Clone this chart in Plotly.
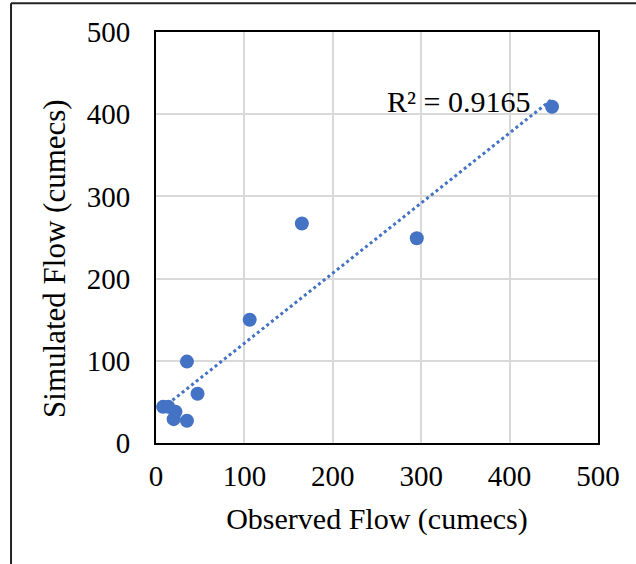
import numpy as np
import plotly.graph_objects as go

# Observed vs simulated flow (cumecs)
observed = [8, 14, 22, 20, 35, 47, 35, 106, 165, 295, 448]
simulated = [44, 44, 38, 29, 27, 60, 99, 150, 267, 249, 409]
r2_label = "R² = 0.9165"
ticks = [0, 100, 200, 300, 400, 500]

blue = "#4472C4"
font_family = "Liberation Serif, Times New Roman, serif"

# Linear trendline across the observed range
slope, intercept = np.polyfit(observed, simulated, 1)
x_fit = np.array([min(observed), max(observed)])
y_fit = slope * x_fit + intercept

fig = go.Figure()
fig.add_trace(go.Scatter(
    x=x_fit, y=y_fit, mode="lines",
    line=dict(color=blue, width=3, dash="dot"),
    hoverinfo="skip", showlegend=False,
))
fig.add_trace(go.Scatter(
    x=observed, y=simulated, mode="markers",
    marker=dict(color=blue, size=14, line=dict(width=0)),
    showlegend=False,
))

fig.add_annotation(
    x=342, y=415, text=r2_label, showarrow=False,
    font=dict(family=font_family, size=30, color="black"),
    xanchor="center", yanchor="middle",
)

# Y-axis title, placed as rotated text
fig.add_annotation(
    xref="paper", yref="paper", x=-0.2285, y=0.448,
    text="Simulated Flow (cumecs)", showarrow=False, textangle=-90,
    font=dict(family=font_family, size=31, color="black"),
    xanchor="center", yanchor="middle",
)

axis_common = dict(
    range=[0, 500], tickvals=ticks, showgrid=True,
    gridcolor="#D9D9D9", gridwidth=1.5,
    showline=True, linecolor="black", linewidth=2, mirror=True,
    zeroline=False, ticks="",
    tickfont=dict(family=font_family, size=29, color="black"),
)

fig.update_xaxes(**axis_common, title_text="Observed Flow (cumecs)",
                 title_font=dict(family=font_family, size=30, color="black"),
                 ticklabelstandoff=6, title_standoff=17)
fig.update_yaxes(**axis_common, ticklabelstandoff=18)

# Chart border (left and top edges)
fig.add_shape(type="line", xref="paper", yref="paper",
              x0=-0.328, x1=-0.328, y0=1.07, y1=-0.32,
              line=dict(color="#222222", width=2))
fig.add_shape(type="line", xref="paper", yref="paper",
              x0=-0.328, x1=1.12, y0=1.07, y1=1.07,
              line=dict(color="#222222", width=2))

fig.update_layout(
    width=636, height=564,
    margin=dict(l=156, r=38, t=32, b=121),
    plot_bgcolor="white", paper_bgcolor="white",
)

fig.write_html("out.html")
